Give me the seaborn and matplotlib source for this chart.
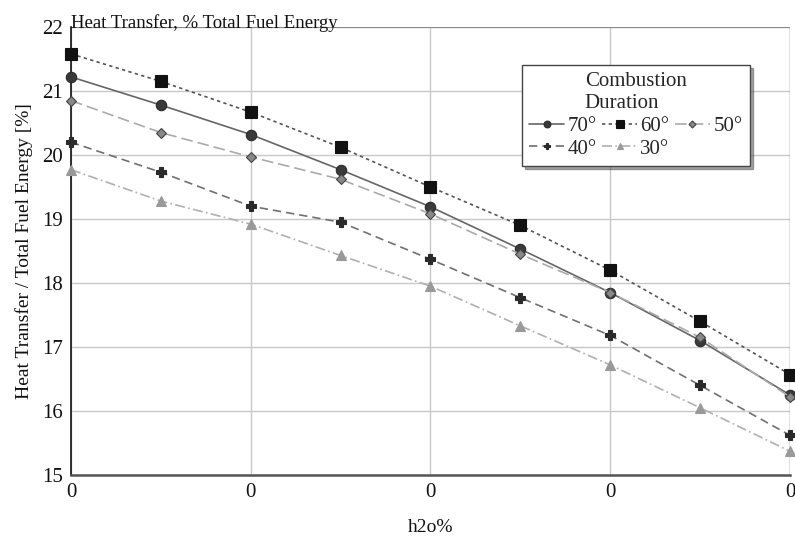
import numpy as np
import pandas as pd
import matplotlib
matplotlib.use("Agg")
import matplotlib.pyplot as plt
import seaborn as sns

# === Data ===
x_pos = [0, 1, 2, 3, 4, 5, 6, 7, 8]
x_tick_pos = [0, 2, 4, 6, 8]
x_tick_labels = ["0", "0", "0", "0", "0"]
labels = ["70°", "60°", "50°", "40°", "30°"]
d70 = [21.22, 20.78, 20.32, 19.77, 19.19, 18.53, 17.85, 17.10, 16.25]
d60 = [21.58, 21.15, 20.67, 20.12, 19.50, 18.90, 18.20, 17.40, 16.57]
d50 = [20.85, 20.35, 19.97, 19.62, 19.08, 18.45, 17.85, 17.15, 16.22]
d40 = [20.20, 19.73, 19.20, 18.95, 18.37, 17.77, 17.18, 16.40, 15.62]
d30 = [19.77, 19.28, 18.92, 18.43, 17.95, 17.33, 16.72, 16.05, 15.37]
series = [d70, d60, d50, d40, d30]

# === Styles ===
styles = [
    dict(color="#666666", ls="-", marker="o", mfc="#3a3a3a", mec="#2a2a2a", ms=7.5),
    dict(color="#555555", ls=(0, (2, 2)), marker="s", mfc="#111111", mec="#111111", ms=8),
    dict(color="#aaaaaa", ls=(0, (7, 3)), marker="D", mfc="#888888", mec="#444444", ms=5.5),
    dict(color="#707070", ls=(0, (5, 3)), marker="P", mfc="#2a2a2a", mec="#2a2a2a", ms=7.5),
    dict(color="#b0b0b0", ls=(0, (6, 2, 1, 2)), marker="^", mfc="#999999", mec="#999999", ms=7),
]

sns.set_theme(style="whitegrid")
plt.rcParams["font.family"] = ["Liberation Serif", "DejaVu Serif"]

fig = plt.figure(figsize=(7.95, 5.4), dpi=100)
ax = fig.add_axes([0.0893, 0.1204, 0.9044, 0.8296])

for lab, vals, st in zip(labels, series, styles):
    df = pd.DataFrame({"x": x_pos, "y": vals})
    sns.lineplot(data=df, x="x", y="y", ax=ax, label=lab,
                 color=st["color"], linestyle=st["ls"], linewidth=1.2,
                 marker=st["marker"], markerfacecolor=st["mfc"],
                 markeredgecolor=st["mec"], markersize=st["ms"],
                 markeredgewidth=0.8, clip_on=False, zorder=3)

ax.set_xlim(0, 8)
ax.set_ylim(15, 22)
ax.set_xticks(x_tick_pos)
ax.set_xticklabels(x_tick_labels)
ax.set_yticks(range(15, 23))
ax.tick_params(axis="both", labelsize=15, length=0, pad=6, colors="#111111")

ax.grid(True, color="#c8c8c8", linewidth=1.0)
for side in ["top", "right"]:
    ax.spines[side].set_visible(False)
ax.spines["left"].set_color("#111111")
ax.spines["left"].set_linewidth(1.2)
ax.spines["bottom"].set_color("#555555")
ax.spines["bottom"].set_linewidth(1.8)
ax.axhline(22, color="#888888", linewidth=1.5, zorder=1)
ax.axvline(8, color="#999999", linewidth=1.0, zorder=1)

ax.set_xlabel("h2o%", fontsize=14, labelpad=12, color="#111111")
ax.set_ylabel("Heat Transfer / Total Fuel Energy [%]", fontsize=14, labelpad=6, color="#111111")
ax.set_title("Heat Transfer, % Total Fuel Energy", loc="left", fontsize=13.5, pad=-1, color="#111111")

# row-major order in a 3-column legend: 70 60 50 / 40 30
handles, labs = ax.get_legend_handles_labels()
order = [0, 3, 1, 4, 2]
leg = ax.legend([handles[i] for i in order], [labs[i] for i in order],
                title="Combustion\nDuration", ncol=3, fontsize=15, title_fontsize=15,
                loc="upper right", bbox_to_anchor=(0.944, 0.915), frameon=True,
                fancybox=False, shadow=True, handlelength=1.7, handletextpad=0.15,
                columnspacing=0.25, labelspacing=0.15, borderpad=0.35, markerscale=0.65,
                borderaxespad=0)
leg.get_frame().set_edgecolor("#444444")
leg.get_frame().set_linewidth(1.0)
leg.get_frame().set_alpha(1)

fig.savefig("out.png", dpi=100)
